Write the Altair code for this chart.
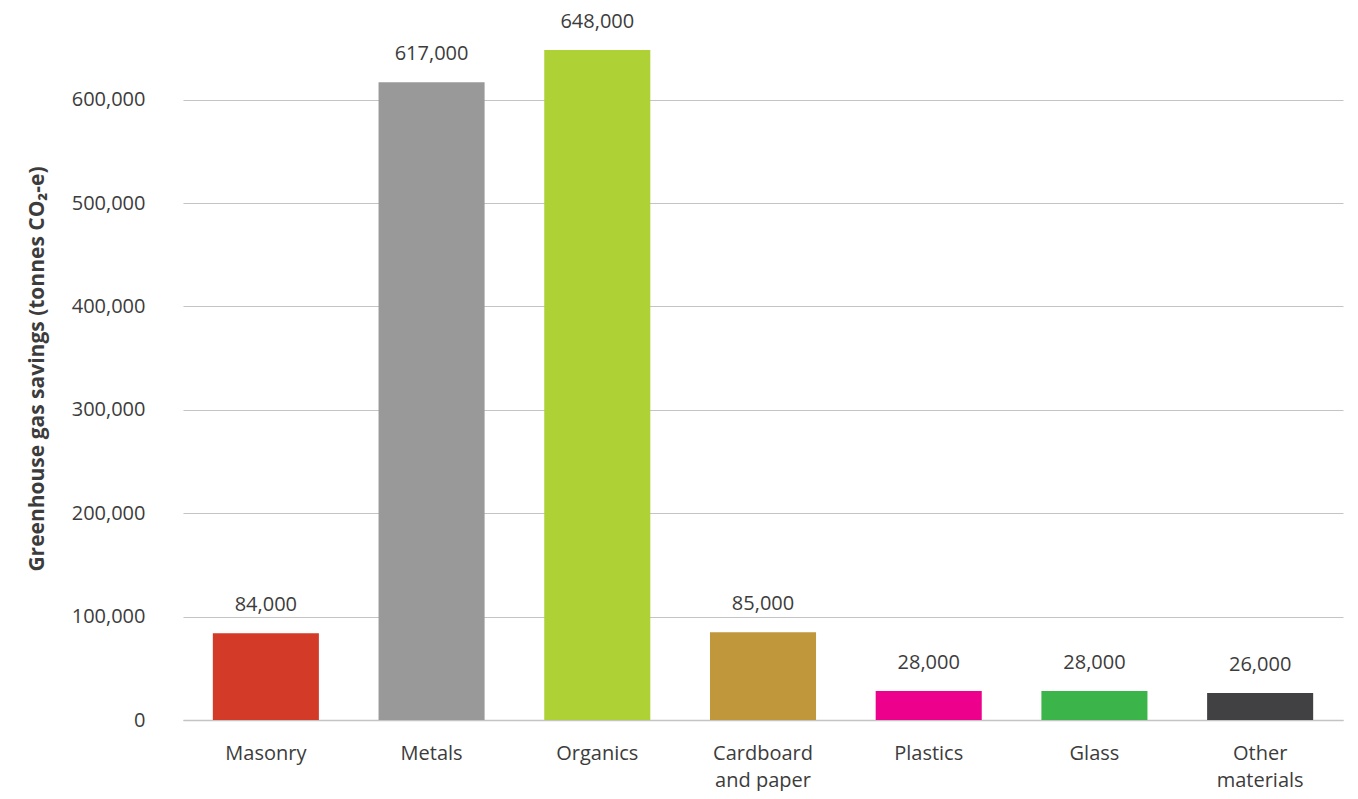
import altair as alt
import pandas as pd

categories = ["Masonry", "Metals", "Organics", "Cardboard and paper", "Plastics", "Glass", "Other materials"]
values = [84000, 617000, 648000, 85000, 28000, 28000, 26000]
value_labels = ["84,000", "617,000", "648,000", "85,000", "28,000", "28,000", "26,000"]
colors = ["#d33a27", "#999999", "#aed136", "#c0973b", "#ec008c", "#3bb54a", "#414042"]
y_ticks = [0, 100000, 200000, 300000, 400000, 500000, 600000]

df = pd.DataFrame({"category": categories, "value": values, "label": value_labels})

FONT = "Open Sans"
TXT = "#3c3c3c"

x = alt.X(
    "category:N",
    sort=categories,
    scale=alt.Scale(paddingInner=0.36, paddingOuter=0.18),
    axis=alt.Axis(
        title=None,
        labelAngle=0,
        labelFont=FONT,
        labelFontSize=20,
        labelColor=TXT,
        labelPadding=23,
        labelLineHeight=27,
        ticks=False,
        domain=True,
        domainColor="#c4c4c4",
        domainWidth=1.5,
        labelExpr="datum.value == 'Cardboard and paper' ? ['Cardboard', 'and paper'] : datum.value == 'Other materials' ? ['Other', 'materials'] : datum.value",
    ),
)

y = alt.Y(
    "value:Q",
    scale=alt.Scale(domain=[0, 680000], nice=False),
    axis=alt.Axis(
        title="Greenhouse gas savings (tonnes CO₂-e)",
        titleFont=FONT,
        titleFontSize=21,
        titleFontWeight="bold",
        titleColor=TXT,
        titlePadding=24,
        values=y_ticks,
        format=",d",
        labelFont=FONT,
        labelFontSize=20,
        labelColor=TXT,
        labelPadding=38,
        ticks=False,
        domain=False,
        grid=True,
        gridColor="#c4c4c4",
        gridWidth=1.2,
    ),
)

bars = alt.Chart(df).mark_bar().encode(
    x=x,
    y=y,
    color=alt.Color("category:N", scale=alt.Scale(domain=categories, range=colors), legend=None),
)

text = alt.Chart(df).mark_text(
    font=FONT, fontSize=20, color=TXT, baseline="middle", dy=-28
).encode(
    x=alt.X("category:N", sort=categories),
    y=alt.Y("value:Q"),
    text="label:N",
)

chart = (
    alt.layer(bars, text)
    .properties(
        width=1160,
        height=703,
        background="white",
        autosize=alt.AutoSizeParams(type="none"),
        padding={"left": 175, "top": 9, "right": 7, "bottom": 71},
    )
    .configure_view(strokeWidth=0, stroke="transparent")
)

chart.save("out.html", embed_options={"renderer": "svg", "actions": False})
